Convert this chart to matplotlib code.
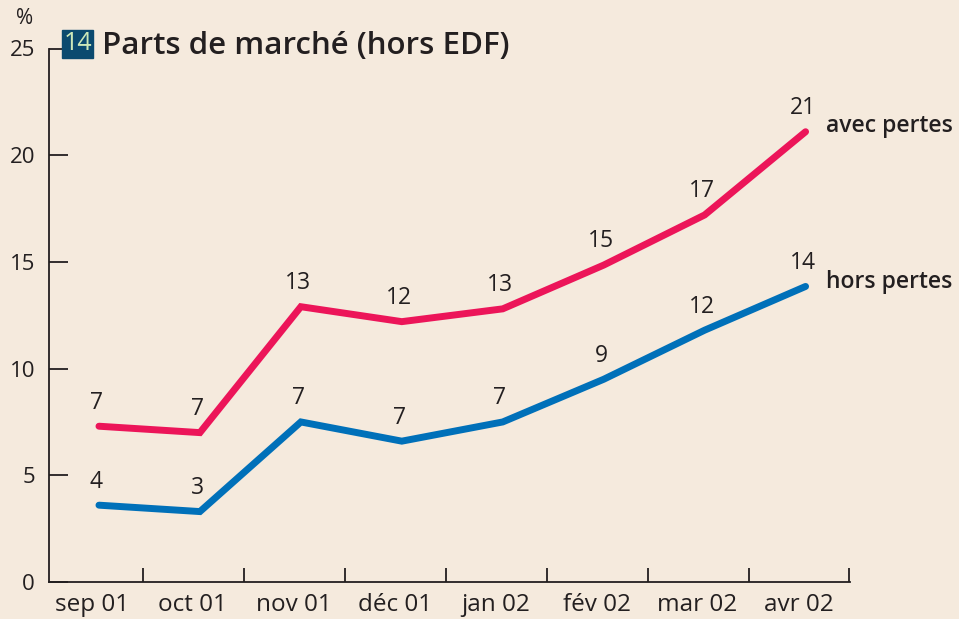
import matplotlib
matplotlib.use('Agg')
from matplotlib import pyplot as plt
from matplotlib.patches import Rectangle

# data
months = ['sep 01', 'oct 01', 'nov 01', 'déc 01', 'jan 02', 'fév 02', 'mar 02', 'avr 02']
avec_pertes = [7.3, 7.0, 12.9, 12.2, 12.8, 14.85, 17.2, 21.1]
hors_pertes = [3.6, 3.3, 7.5, 6.6, 7.5, 9.5, 11.8, 13.85]
avec_labels = ['7', '7', '13', '12', '13', '15', '17', '21']
hors_labels = ['4', '3', '7', '7', '7', '9', '12', '14']
yticks = [0, 5, 10, 15, 20, 25]

bg = '#F5EADD'
red = '#EC1559'
blue = '#0070B9'
ink = '#231F20'

plt.rcParams['font.family'] = ['Open Sans', 'DejaVu Sans']

fig = plt.figure(figsize=(9.59, 6.19), dpi=100, facecolor=bg)
ax = fig.add_axes([49 / 959, 1 - 582 / 619, 801 / 959, 533.5 / 619])
ax.set_facecolor(bg)

x = list(range(len(months)))
ax.plot(x, avec_pertes, color=red, lw=5, solid_capstyle='round', solid_joinstyle='miter')
ax.plot(x, hors_pertes, color=blue, lw=5, solid_capstyle='round', solid_joinstyle='miter')

for i in x:
    ax.annotate(avec_labels[i], (i, avec_pertes[i]), xytext=(-2, 17), textcoords='offset points',
                ha='center', va='center', fontsize=16.5, color=ink)
    ax.annotate(hors_labels[i], (i, hors_pertes[i]), xytext=(-2, 17), textcoords='offset points',
                ha='center', va='center', fontsize=16.5, color=ink)

ax.annotate('avec pertes', (x[-1], avec_pertes[-1]), xytext=(15, 4), textcoords='offset points',
            ha='left', va='center', fontsize=16.5, fontweight='semibold', color=ink)
ax.annotate('hors pertes', (x[-1], hors_pertes[-1]), xytext=(15, 3), textcoords='offset points',
            ha='left', va='center', fontsize=16.5, fontweight='semibold', color=ink)

ax.set_xlim(-0.495, 7.44)
ax.set_ylim(0, 25)
for s in ['top', 'right']:
    ax.spines[s].set_visible(False)
for s in ['left', 'bottom']:
    ax.spines[s].set_color(ink)
    ax.spines[s].set_linewidth(1.3)

ax.set_yticks(yticks)
ax.set_yticklabels([str(v) for v in yticks], fontsize=16, color=ink)
ax.tick_params(axis='y', direction='in', length=14, width=1.3, color=ink, pad=10)

ax.set_xticks([i + 0.435 for i in x])
ax.set_xticklabels([])
ax.tick_params(axis='x', which='major', direction='in', length=10, width=1.3, color=ink)
ax.set_xticks([i - 0.07 for i in x], minor=True)
ax.set_xticklabels(months, minor=True, fontsize=17.5, color=ink, fontweight='medium')
ax.tick_params(axis='x', which='minor', length=0, pad=8)

# title with numbered badge
fig.patches.append(Rectangle((62 / 959, 1 - 58 / 619), 31 / 959, 28 / 619,
                             transform=fig.transFigure, color='#0B4A6F'))
fig.text(77.5 / 959, 1 - 44 / 619, '14', ha='center', va='center', fontsize=18, color='#CDE8B8')
fig.text(102 / 959, 1 - 46 / 619, 'Parts de marché (hors EDF)', ha='left', va='center',
         fontsize=22.5, fontweight='semibold', color=ink)
fig.text(25 / 959, 1 - 19 / 619, '%', ha='center', va='center', fontsize=15, color=ink)

fig.savefig('out.png', dpi=100, facecolor=bg)
